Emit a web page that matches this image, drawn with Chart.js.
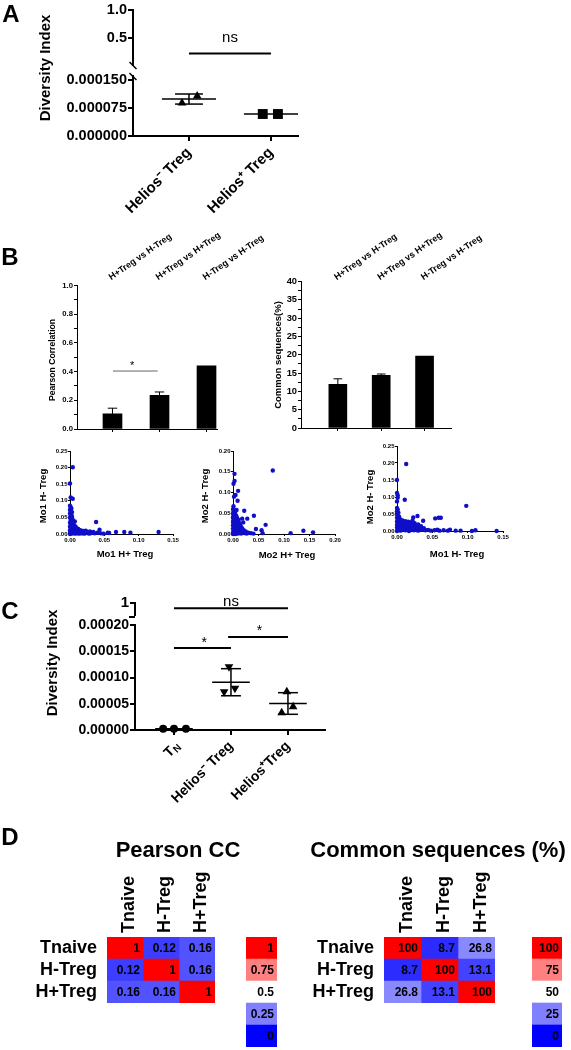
<!DOCTYPE html>
<html><head><meta charset="utf-8">
<script src="https://cdn.jsdelivr.net/npm/chart.js@4.4.0/dist/chart.umd.min.js"></script>
<style>
html,body{margin:0;padding:0;background:#fff;width:571px;height:1050px;overflow:hidden;position:relative;}
canvas{position:absolute;}
</style></head><body>
<script>
// ================= DATA =================
// Panel A
const aCategories = ['Helios⁻ Treg', 'Helios⁺ Treg'];
const aHeliosNegValues = [0.0000884, 0.000107];
const aHeliosPosValues = [0.0000589, 0.0000589];
const aMeans = [0.000099, 0.0000589];
const aSD = [0.0000135, 0];
const aJitter = [[-0.085, 0.1], [-0.1, 0.085]];
const aTopTicks = [0.5, 1.0];
const aBottomTicks = [0, 0.000075, 0.00015];
const aNsY = 0.214;

// Panel B
const bCategories = ['H+Treg vs H-Treg', 'H+Treg vs H+Treg', 'H-Treg vs H-Treg'];
const bPearson = [0.105, 0.235, 0.441];
const bPearsonErr = [0.04, 0.023, 0];
const bPearsonTicks = [0, 0.1, 0.2, 0.3, 0.4, 0.5, 0.6, 0.7, 0.8, 0.9, 1.0];
const bPearsonSigY = 0.404;
const bCommon = [11.94, 14.4, 19.67];
const bCommonErr = [1.5, 0.35, 0];
const bCommonTicks = [0, 2.5, 5, 7.5, 10, 12.5, 15, 17.5, 20, 22.5, 25, 27.5, 30, 32.5, 35, 37.5, 40];

// Scatter plots (frequency pairs)
const s1Points = [
 [0.004,0.201],[0.000,0.152],[0.001,0.110],[0.004,0.106],[0.000,0.085],[0.001,0.081],[0.002,0.077],[0.000,0.073],[0.001,0.069],[0.003,0.066],
 [0.000,0.062],[0.002,0.058],[0.001,0.055],[0.003,0.052],[0.000,0.049],[0.002,0.046],[0.004,0.043],[0.001,0.040],[0.007,0.038],[0.003,0.036],
 [0.000,0.034],[0.005,0.033],[0.002,0.031],[0.004,0.029],[0.001,0.027],[0.006,0.026],[0.003,0.024],[0.008,0.023],[0.000,0.022],[0.005,0.021],
 [0.002,0.019],[0.007,0.018],[0.010,0.017],[0.004,0.016],[0.001,0.015],[0.012,0.015],[0.006,0.014],[0.009,0.013],[0.003,0.012],[0.014,0.012],
 [0.000,0.011],[0.008,0.011],[0.011,0.010],[0.005,0.010],[0.017,0.010],[0.002,0.009],[0.013,0.009],[0.020,0.009],[0.007,0.008],[0.010,0.007],
 [0.016,0.007],[0.023,0.010],[0.004,0.007],[0.001,0.006],[0.012,0.006],[0.019,0.006],[0.029,0.008],[0.034,0.006],[0.006,0.005],[0.009,0.004],
 [0.015,0.004],[0.022,0.004],[0.026,0.003],[0.003,0.004],[0.000,0.003],[0.011,0.003],[0.018,0.002],[0.031,0.003],[0.038,0.036],[0.043,0.013],
 [0.040,0.004],[0.005,0.002],[0.008,0.001],[0.013,0.001],[0.021,0.001],[0.028,0.001],[0.036,0.002],[0.045,0.002],[0.049,0.001],[0.055,0.004],
 [0.057,0.003],[0.067,0.006],[0.079,0.006],[0.088,0.004],[0.129,0.006],[0.002,0.001],[0.000,0.000],[0.016,0.002],[0.024,0.006]
];
const s1XTicks = [0, 0.05, 0.10, 0.15];
const s1YTicks = [0, 0.05, 0.10, 0.15, 0.20, 0.25];
const s2Points = [
 [0.078,0.153],[0.003,0.145],[0.003,0.128],[0.001,0.121],[0.010,0.104],[0.005,0.094],[0.002,0.090],[0.009,0.080],[0.001,0.067],[0.007,0.058],
 [0.022,0.056],[0.041,0.044],[0.028,0.037],[0.018,0.037],[0.020,0.028],[0.064,0.022],[0.045,0.012],[0.056,0.009],[0.058,0.002],[0.113,0.002],
 [0.138,0.008],[0.157,0.004],
 [0.000,0.060],[0.002,0.057],[0.001,0.054],[0.004,0.052],[0.000,0.049],[0.003,0.047],[0.006,0.045],[0.001,0.043],[0.004,0.041],[0.000,0.039],
 [0.008,0.039],[0.002,0.037],[0.005,0.035],[0.011,0.034],[0.001,0.033],[0.007,0.032],[0.003,0.030],[0.000,0.029],[0.009,0.029],[0.005,0.027],
 [0.013,0.026],[0.002,0.025],[0.007,0.024],[0.010,0.022],[0.000,0.021],[0.004,0.020],[0.015,0.020],[0.008,0.018],[0.002,0.017],[0.012,0.016],
 [0.005,0.015],[0.018,0.014],[0.000,0.013],[0.009,0.013],[0.014,0.011],[0.003,0.011],[0.006,0.010],[0.021,0.009],[0.011,0.008],[0.001,0.008],
 [0.016,0.007],[0.025,0.006],[0.008,0.006],[0.004,0.005],[0.013,0.004],[0.019,0.004],[0.030,0.003],[0.000,0.003],[0.007,0.003],[0.023,0.002],
 [0.035,0.002],[0.002,0.001],[0.010,0.001],[0.016,0.001],[0.027,0.001],[0.040,0.001],[0.000,0.000],[0.005,0.000]
];
const s2XTicks = [0, 0.05, 0.10, 0.15, 0.20];
const s2YTicks = [0, 0.05, 0.10, 0.15, 0.20];
const s3Points = [
 [0.013,0.197],[0.000,0.150],[0.000,0.112],[0.001,0.105],[0.001,0.098],[0.011,0.092],[0.000,0.087],[0.098,0.074],[0.000,0.068],[0.001,0.063],
 [0.000,0.058],[0.002,0.054],[0.054,0.037],[0.059,0.039],[0.062,0.039],[0.023,0.040],[0.029,0.044],[0.022,0.030],[0.037,0.030],
 [0.141,0.000],[0.111,0.002],[0.106,0.000],[0.090,0.001],[0.083,0.001],[0.075,0.004],[0.072,0.001],[0.066,0.002],[0.060,0.001],[0.057,0.004],
 [0.053,0.002],[0.048,0.001],[0.044,0.003],
 [0.000,0.050],[0.001,0.046],[0.003,0.042],[0.000,0.039],[0.002,0.036],[0.005,0.034],[0.001,0.032],[0.008,0.031],[0.004,0.029],[0.012,0.029],
 [0.000,0.027],[0.016,0.027],[0.007,0.026],[0.020,0.025],[0.002,0.024],[0.010,0.023],[0.025,0.023],[0.014,0.021],[0.005,0.020],[0.018,0.019],
 [0.030,0.019],[0.000,0.018],[0.009,0.017],[0.023,0.016],[0.003,0.015],[0.013,0.015],[0.034,0.014],[0.027,0.013],[0.006,0.012],[0.017,0.012],
 [0.000,0.010],[0.021,0.010],[0.011,0.009],[0.031,0.009],[0.038,0.008],[0.004,0.007],[0.015,0.007],[0.026,0.006],[0.008,0.005],[0.019,0.004],
 [0.035,0.004],[0.001,0.003],[0.012,0.002],[0.024,0.002],[0.030,0.001],[0.005,0.001],[0.017,0.000],[0.040,0.002],[0.000,0.000]
];
const s3XTicks = [0, 0.05, 0.10, 0.15];
const s3YTicks = [0, 0.05, 0.10, 0.15, 0.20, 0.25];

// Panel C
const cCategories = ['TN', 'Helios⁻ Treg', 'Helios⁺Treg'];
const cTNValues = [0.0000025, 0.0000025, 0.0000025];
const cHeliosNegValues = [0.0001206, 0.000073, 0.0000794];
const cHeliosPosValues = [0.000073, 0.000033, 0.0000444];
const cMeans = [0.0000025, 0.000091, 0.0000505];
const cSD = [0, 0.0000258, 0.0000206];
const cJitter = [[-0.19, 0, 0.21], [-0.035, -0.12, 0.07], [-0.02, -0.11, 0.09]];
const cTicks = [0, 0.00005, 0.0001, 0.00015, 0.0002];
const cTopTicks = [1];
const cNsY = 0.957;
const cStar1Y = 0.000156;
const cStar2Y = 0.000177;

// Panel D
const dLabels = ['Tnaive', 'H-Treg', 'H+Treg'];
const dPearson = [[1, 0.12, 0.16], [0.12, 1, 0.16], [0.16, 0.16, 1]];
const dCommon = [[100, 8.7, 26.8], [8.7, 100, 13.1], [26.8, 13.1, 100]];
const dPearsonLegend = [1, 0.75, 0.5, 0.25, 0];
const dCommonLegend = [100, 75, 50, 25, 0];

// ================= HELPERS =================
const FONT = "'Liberation Sans', Arial, Helvetica, sans-serif";
const F = (size, bold) => (bold ? 'bold ' : '') + size + 'px ' + FONT;
Chart.defaults.font.family = FONT;
Chart.defaults.color = '#000';

const DECOR = {};
Chart.register({
  id: 'decor',
  afterDraw(chart) {
    const d = DECOR[chart.canvas.id]; if (!d) return;
    const ctx = chart.ctx; const L = d.origin[0], T = d.origin[1];
    ctx.save();
    (d.lines || []).forEach(l => {
      ctx.beginPath(); ctx.strokeStyle = l.color || '#000'; ctx.lineWidth = l.w || 1;
      ctx.moveTo(l.p[0] - L, l.p[1] - T); ctx.lineTo(l.p[2] - L, l.p[3] - T); ctx.stroke();
    });
    if (d.cells) {
      chart.data.datasets.forEach((ds, i) => {
        if (!ds.cellText) return;
        chart.getDatasetMeta(i).data.forEach((el, j) => {
          const p = el.getProps(['x', 'y', 'base'], true);
          ctx.font = F(12, true); ctx.fillStyle = '#000'; ctx.textAlign = 'right'; ctx.textBaseline = 'middle';
          ctx.fillText(ds.cellText[j], Math.max(p.x, p.base) - 3, p.y + 0.5);
        });
      });
    }
    (d.items || []).forEach(it => {
      let x = it.px !== undefined ? it.px - L : chart.scales.x.getPixelForValue(it.xv);
      let y = it.py !== undefined ? it.py - T : chart.scales.y.getPixelForValue(it.yv);
      x += it.ox || 0; y += it.oy || 0;
      ctx.save(); ctx.translate(x, y); if (it.rot) ctx.rotate(it.rot * Math.PI / 180);
      ctx.font = it.font; ctx.fillStyle = it.color || '#000';
      ctx.textAlign = it.align || 'center'; ctx.textBaseline = it.base || 'middle';
      ctx.fillText(it.text, it.tx || 0, it.ty || 0); ctx.restore();
    });
    ctx.restore();
  }
});

function mk(id, L, T, W, H, cfg, decor) {
  const c = document.createElement('canvas');
  c.id = id; c.width = W; c.height = H;
  c.style.left = L + 'px'; c.style.top = T + 'px'; c.style.width = W + 'px'; c.style.height = H + 'px';
  document.body.appendChild(c);
  DECOR[id] = Object.assign({origin: [L, T], items: [], lines: []}, decor || {});
  cfg.options = Object.assign({responsive: false, maintainAspectRatio: false, animation: false, devicePixelRatio: 1, events: []}, cfg.options);
  cfg.options.plugins = Object.assign({legend: {display: false}, tooltip: {enabled: false}}, cfg.options.plugins || {});
  return new Chart(c.getContext('2d'), cfg);
}

function axis(o) {
  const s = {
    type: 'linear', min: o.min, max: o.max, offset: false, display: o.display === undefined ? true : o.display,
    afterBuildTicks: sc => { sc.ticks = (o.vals || []).map(v => ({value: v})); },
    ticks: {callback: o.cb || (() => ''), font: {size: o.size || 10, weight: 'bold'}, padding: o.pad === undefined ? 1 : o.pad, autoSkip: false, color: '#000'},
    grid: {drawOnChartArea: false, drawTicks: true, tickLength: o.tick || 4, color: '#000', lineWidth: o.lw || 1, offset: false},
    border: {display: true, color: '#000', width: o.lw || 1}
  };
  if (o.rot !== undefined) { s.ticks.minRotation = o.rot; s.ticks.maxRotation = o.rot; }
  if (o.fitW !== undefined) s.afterFit = sc => { sc.width = o.fitW; };
  if (o.fitH !== undefined) s.afterFit = sc => { sc.height = o.fitH; };
  return s;
}
const seg = (x0, y0, x1, y1, w, color) => ({type: 'line', data: [{x: x0, y: y0}, {x: x1, y: y1}], borderColor: color || '#000', borderWidth: w, pointRadius: 0, fill: false, showLine: true, clip: false});
function errBar(x, lo, hi, cap, w) { return [seg(x, lo, x, hi, w), seg(x - cap, hi, x + cap, hi, w), seg(x - cap, lo, x + cap, lo, w)]; }
const markers = (vals, cat, jit, style, r, rot) => ({type: 'scatter', data: vals.map((v, i) => ({x: cat + jit[i], y: v})), pointStyle: style, pointRadius: r, rotation: rot || 0, backgroundColor: '#000', borderColor: '#000', borderWidth: 0, clip: false});
function heat(v, lo, hi) {
  const mid = (lo + hi) / 2;
  if (v >= mid) { const g = Math.round(255 * (1 - (v - mid) / (hi - mid))); return 'rgb(255,' + g + ',' + g + ')'; }
  const g = Math.round(255 * (1 - (mid - v) / (mid - lo))); return 'rgb(' + g + ',' + g + ',255)';
}

// ================= PANEL A =================
mk('aT', 0, 0, 300, 75, {
  type: 'scatter',
  data: {datasets: [seg(1, aNsY, 2, aNsY, 2)]},
  options: {
    layout: {padding: {left: 0, top: 10, right: 2, bottom: 9}, autoPadding: false},
    scales: {
      x: {type: 'linear', min: 0.317, max: 2.33, display: false},
      y: axis({min: 0, max: 1, vals: aTopTicks, cb: v => v.toFixed(1), size: 14.5, tick: 5, lw: 2, pad: 1, fitW: 133})
    }
  }
}, {items: [{xv: 1.5, yv: aNsY, oy: -11, text: 'ns', font: F(15), base: 'alphabetic'}]});

mk('aB', 0, 0, 300, 230, {
  type: 'scatter',
  data: {datasets: [
    markers(aHeliosNegValues, 1, aJitter[0], 'triangle', 5),
    markers(aHeliosPosValues, 2, aJitter[1], 'rect', 7),
    seg(1 - 0.33, aMeans[0], 1 + 0.33, aMeans[0], 1.5),
    seg(2 - 0.33, aMeans[1], 2 + 0.33, aMeans[1], 1.5),
    ...errBar(1, aMeans[0] - aSD[0], aMeans[0] + aSD[0], 0.17, 1.5)
  ]},
  options: {
    layout: {padding: {left: 0, top: 80, right: 2, bottom: 0}, autoPadding: false},
    scales: {
      x: axis({min: 0.317, max: 2.33, vals: [1, 2], cb: v => aCategories[Math.round(v) - 1], size: 15, tick: 5, lw: 2, pad: 3, rot: 45, fitH: 94}),
      y: axis({min: 0, max: 0.00015, vals: aBottomTicks, cb: v => v.toFixed(6), size: 14.5, tick: 5, lw: 2, pad: 1, fitW: 133})
    }
  }
}, {
  items: [
    {px: 11, py: 15, text: 'A', font: F(24, true)},
    {px: 46, py: 68, text: 'Diversity Index', font: F(15, true), rot: -90}
  ],
  lines: [
    {p: [133, 75, 133, 80], w: 2},
    {p: [129.5, 62, 136.5, 69], w: 1.5},
    {p: [129.5, 73, 136.5, 80], w: 1.5}
  ]
});

// ================= PANEL B =================
const bBarsPearson = {type: 'bar', data: bPearson.map((v, i) => ({x: i + 1, y: v})), backgroundColor: '#000', barThickness: 19};
const bErrPearson = [];
bPearson.forEach((v, i) => { if (bPearsonErr[i] > 0) { bErrPearson.push(seg(i + 1, v, i + 1, v + bPearsonErr[i], 1)); bErrPearson.push(seg(i + 1 - 0.1, v + bPearsonErr[i], i + 1 + 0.1, v + bPearsonErr[i], 1)); } });
mk('b1', 0, 225, 290, 215, {
  type: 'bar',
  data: {datasets: [bBarsPearson, ...bErrPearson, seg(1.01, bPearsonSigY, 1.96, bPearsonSigY, 1, '#666')]},
  options: {
    layout: {padding: {left: 0, top: 60.5, right: 73, bottom: 0}, autoPadding: false},
    scales: {
      x: axis({min: 0.245, max: 3.223, vals: [1, 2, 3], cb: () => '', size: 7, tick: 3, lw: 1, fitH: 11}),
      y: axis({min: 0, max: 1, vals: bPearsonTicks, cb: v => (Math.round(v * 10) % 2 === 0 ? v.toFixed(1) : ''), size: 7.7, tick: 3, lw: 1, pad: 1, fitW: 77})
    }
  }
}, {
  items: [
    {px: 10, py: 258, text: 'B', font: F(24, true)},
    {px: 53, py: 360, text: 'Pearson Correlation', font: F(8.6, true), rot: -90},
    {xv: 1.42, yv: bPearsonSigY, oy: -2, text: '*', font: F(11), base: 'alphabetic'},
    ...bCategories.map((t, i) => ({xv: i + 1, py: 282, text: t, font: F(9, true), rot: -35, align: 'left', base: 'bottom'}))
  ]
});

const bBarsCommon = {type: 'bar', data: bCommon.map((v, i) => ({x: i + 1, y: v})), backgroundColor: '#000', barThickness: 18};
const bErrCommon = [];
bCommon.forEach((v, i) => { if (bCommonErr[i] > 0) { bErrCommon.push(seg(i + 1, v, i + 1, v + bCommonErr[i], 1)); bErrCommon.push(seg(i + 1 - 0.1, v + bCommonErr[i], i + 1 + 0.1, v + bCommonErr[i], 1)); } });
mk('b2', 245, 225, 326, 215, {
  type: 'bar',
  data: {datasets: [bBarsCommon, ...bErrCommon]},
  options: {
    layout: {padding: {left: 0, top: 56.6, right: 120, bottom: 0}, autoPadding: false},
    scales: {
      x: axis({min: 0.15, max: 3.61, vals: [1, 2, 3], cb: () => '', size: 7, tick: 3, lw: 1, fitH: 12}),
      y: axis({min: 0, max: 40, vals: bCommonTicks, cb: v => (v % 5 === 0 ? String(v) : ''), size: 9.3, tick: 3, lw: 1, pad: 1, fitW: 56})
    }
  }
}, {
  items: [
    {px: 278, py: 355, text: 'Common sequences(%)', font: F(9.5, true), rot: -90},
    ...bCategories.map((t, i) => ({xv: i + 1, py: 282, text: t, font: F(9, true), rot: -35, align: 'left', base: 'bottom'}))
  ]
});

// ================= SCATTERS =================
function scatterChart(id, L, T, W, H, pts, xt, yt, xmax, ymax, fitW, padTop, padRight, fitH, titles) {
  mk(id, L, T, W, H, {
    type: 'scatter',
    data: {datasets: [{data: pts.map(p => ({x: p[0], y: p[1]})), pointRadius: 2.2, pointStyle: 'circle', backgroundColor: 'rgb(15,15,200)', borderWidth: 0, clip: false}]},
    options: {
      layout: {padding: {left: 0, top: padTop, right: padRight, bottom: 0}, autoPadding: false},
      scales: {
        x: axis({min: 0, max: xmax, vals: xt, cb: v => v.toFixed(2), size: 6, tick: 2, lw: 1, pad: 0.5, fitH: fitH}),
        y: axis({min: 0, max: ymax, vals: yt, cb: v => v.toFixed(2), size: 6, tick: 2, lw: 1, pad: 0.5, fitW: fitW})
      }
    }
  }, {items: titles});
}
scatterChart('s1', 0, 440, 185, 125, s1Points, s1XTicks, s1YTicks, 0.15, 0.25, 70, 11, 12, 31, [
  {px: 43, py: 496, text: 'Mo1 H- Treg', font: F(9.5, true), rot: -90},
  {px: 125, py: 554, text: 'Mo1 H+ Treg', font: F(9.5, true)}
]);
scatterChart('s2', 185, 440, 170, 125, s2Points, s2XTicks, s2YTicks, 0.20, 0.20, 48, 11, 20, 31, [
  {px: 205, py: 496, text: 'Mo2 H- Treg', font: F(9.5, true), rot: -90},
  {px: 287, py: 555, text: 'Mo2 H+ Treg', font: F(9.5, true)}
]);
scatterChart('s3', 355, 440, 216, 125, s3Points, s3XTicks, s3YTicks, 0.15, 0.25, 42, 6, 68, 34, [
  {px: 370, py: 497, text: 'Mo2 H- Treg', font: F(9.5, true), rot: -90},
  {px: 457, py: 554, text: 'Mo1 H- Treg', font: F(9.5, true)}
]);

// ================= PANEL C =================
mk('cT', 0, 585, 330, 40, {
  type: 'scatter',
  data: {datasets: [seg(1, cNsY, 3, cNsY, 2)]},
  options: {
    layout: {padding: {left: 0, top: 18, right: 5, bottom: 8}, autoPadding: false},
    scales: {
      x: {type: 'linear', min: 0.316, max: 3.65, display: false},
      y: axis({min: 0.9, max: 1.0, vals: cTopTicks, cb: () => '1', size: 15, tick: 5, lw: 2, pad: 1, fitW: 135})
    }
  }
}, {
  items: [{xv: 2, yv: cNsY, oy: -2, text: 'ns', font: F(15), base: 'alphabetic'}],
  lines: [{p: [129, 617, 135, 617], w: 2}]
});

mk('cM', 0, 590, 330, 227, {
  type: 'scatter',
  data: {datasets: [
    markers(cTNValues, 1, cJitter[0], 'circle', 4),
    markers(cHeliosNegValues, 2, cJitter[1], 'triangle', 5, 180),
    markers(cHeliosPosValues, 3, cJitter[2], 'triangle', 5),
    seg(1 - 0.33, cMeans[0], 1 + 0.33, cMeans[0], 1.5),
    seg(2 - 0.33, cMeans[1], 2 + 0.33, cMeans[1], 1.5),
    seg(3 - 0.33, cMeans[2], 3 + 0.33, cMeans[2], 1.5),
    ...errBar(2, cMeans[1] - cSD[1], cMeans[1] + cSD[1], 0.175, 1.5),
    ...errBar(3, cMeans[2] - cSD[2], cMeans[2] + cSD[2], 0.175, 1.5),
    seg(1, cStar1Y, 2, cStar1Y, 2),
    seg(1.95, cStar2Y, 3, cStar2Y, 2)
  ]},
  options: {
    layout: {padding: {left: 0, top: 35, right: 5, bottom: 0}, autoPadding: false},
    scales: {
      x: axis({min: 0.316, max: 3.65, vals: [1, 2, 3], cb: v => (Math.round(v) === 1 ? '' : cCategories[Math.round(v) - 1]), size: 14, tick: 5, lw: 2, pad: 3, rot: 45, fitH: 87}),
      y: axis({min: 0, max: 0.0002, vals: cTicks, cb: v => v.toFixed(5), size: 14, tick: 5, lw: 2, pad: 1, fitW: 135})
    }
  }
}, {
  items: [
    {px: 10, py: 612, text: 'C', font: F(24, true)},
    {px: 53, py: 663, text: 'Diversity Index', font: F(15, true), rot: -90},
    {xv: 1.53, yv: cStar1Y, oy: -1, text: '*', font: F(14), base: 'alphabetic'},
    {xv: 2.5, yv: cStar2Y, oy: -2, text: '*', font: F(14), base: 'alphabetic'},
    {xv: 1, py: 744, ox: 4, rot: -45, align: 'right', text: 'N', font: F(10, true), ty: 3},
    {xv: 1, py: 744, ox: 4, rot: -45, align: 'right', text: 'T', font: F(14, true), tx: -7.5}
  ]
});

// ================= PANEL D =================
function heatmap(id, L, T, W, H, matrix, lo, hi, fitW, padRight, title, colOffset, extra) {
  mk(id, L, T, W, H, {
    type: 'bar',
    data: {
      labels: dLabels,
      datasets: dLabels.map((_, c) => ({
        data: dLabels.map(() => [c, c + 1]),
        backgroundColor: matrix.map(row => heat(row[c], lo, hi)),
        cellText: matrix.map(row => String(row[c])),
        grouped: false, barPercentage: 1, categoryPercentage: 1, borderWidth: 0
      }))
    },
    options: {
      indexAxis: 'y',
      layout: {padding: {left: 0, top: 117, right: padRight, bottom: 47}, autoPadding: false},
      scales: {
        x: {type: 'linear', min: 0, max: 3, display: false},
        y: {type: 'category', afterFit: s => { s.width = fitW; }, ticks: {font: {size: 18, weight: 'bold'}, padding: 10, color: '#000', autoSkip: false}, grid: {display: false, drawTicks: false}, border: {display: false}}
      }
    }
  }, {
    cells: true,
    items: [
      title,
      ...(extra || []),
      ...dLabels.map((t, c) => ({xv: c + 0.5, py: 933, ox: colOffset, rot: -90, align: 'left', text: t, font: F(18, true)}))
    ]
  });
}
function legendCol(id, L, T, vals, lo, hi, padRight) {
  mk(id, L, T, 45, 120, {
    type: 'bar',
    data: {
      labels: vals.map(String),
      datasets: [{data: vals.map(() => [0, 1]), backgroundColor: vals.map(v => heat(v, lo, hi)), cellText: vals.map(String), barPercentage: 1, categoryPercentage: 1, borderWidth: 0}]
    },
    options: {
      indexAxis: 'y',
      layout: {padding: {left: 6, top: 7, right: padRight, bottom: 3}, autoPadding: false},
      scales: {x: {type: 'linear', min: 0, max: 1, display: false}, y: {type: 'category', display: false, ticks: {autoSkip: false}}}
    }
  }, {cells: true});
}
heatmap('d1', 0, 820, 290, 230, dPearson, 0, 1, 107, 75, {px: 178, py: 851, text: 'Pearson CC', font: F(22, true)}, 4,
  [{px: 10, py: 838, text: 'D', font: F(24, true)}]);
legendCol('d1l', 240, 930, dPearsonLegend, 0, 1, 8);
heatmap('d2', 290, 820, 281, 230, dCommon, 0, 100, 94, 76, {px: 438, py: 851, text: 'Common sequences (%)', font: F(22, true)}, 5);
legendCol('d2l', 526, 930, dCommonLegend, 0, 100, 9);
</script>
</body></html>
